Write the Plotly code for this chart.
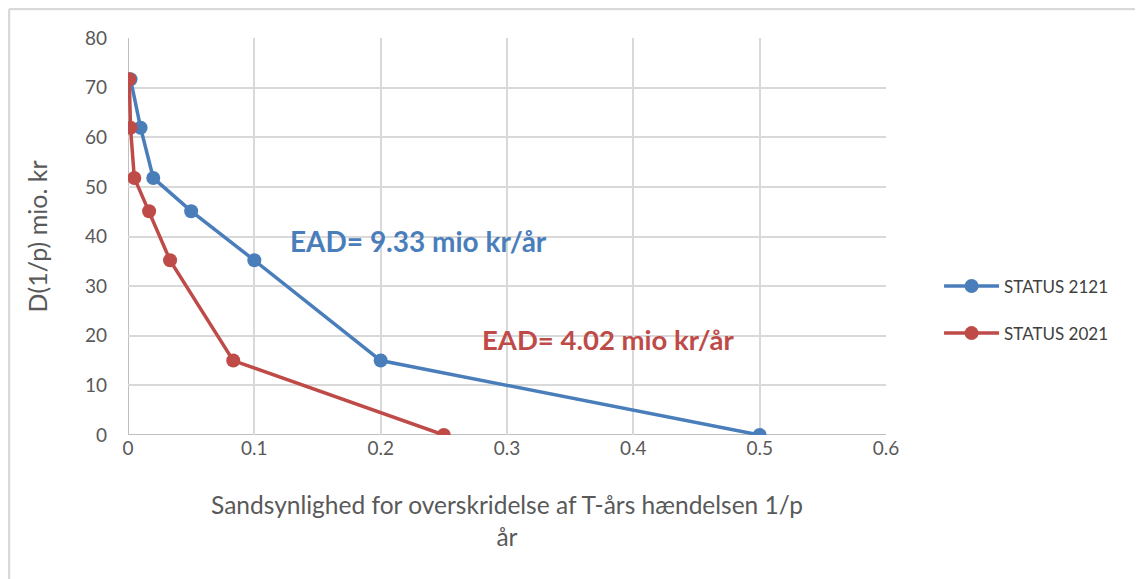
import plotly.graph_objects as go

# Data
p_2121 = [0.002, 0.01, 0.02, 0.05, 0.1, 0.2, 0.5]
d_2121 = [71.7, 61.9, 51.8, 45.1, 35.2, 15.0, 0.0]
p_2021 = [0.001, 0.002, 0.005, 0.0167, 0.0333, 0.0833, 0.25]
d_2021 = [71.7, 61.9, 51.8, 45.1, 35.2, 15.0, 0.0]
name_2121 = "STATUS 2121"
name_2021 = "STATUS 2021"
ead_2121 = "EAD= 9.33 mio kr/år"
ead_2021 = "EAD= 4.02 mio kr/år"
x_ticks = [0, 0.1, 0.2, 0.3, 0.4, 0.5, 0.6]
x_tick_text = ["0", "0.1", "0.2", "0.3", "0.4", "0.5", "0.6"]
y_ticks = [0, 10, 20, 30, 40, 50, 60, 70, 80]

BLUE = "#4A7EBB"
RED = "#BE4B48"
FONT = "Lato, 'Open Sans', sans-serif"

W, H = 1135, 571
ML, MT = 120, 30
PW, PH = 758, 397

fig = go.Figure()
fig.add_trace(go.Scatter(x=p_2121, y=d_2121, mode="lines+markers", name=name_2121,
                         line=dict(color=BLUE, width=3.5), marker=dict(color=BLUE, size=14),
                         legendgroup="a"))
fig.add_trace(go.Scatter(x=p_2021, y=d_2021, mode="lines+markers", name=name_2021,
                         line=dict(color=RED, width=3.5), marker=dict(color=RED, size=14),
                         legendgroup="b"))

fig.add_annotation(x=0.127, y=39.1, xanchor="left", yanchor="middle", showarrow=False,
                   text="<b>" + ead_2121 + "</b>", font=dict(color=BLUE, size=28, family=FONT))
fig.add_annotation(x=0.279, y=19.2, xanchor="left", yanchor="middle", showarrow=False,
                   text="<b>" + ead_2021 + "</b>", font=dict(color=RED, size=27.5, family=FONT))

# outer chart border (left and top)
bx = (1 - ML) / PW
by = 1 + (MT - 1) / PH
fig.add_shape(type="line", xref="paper", yref="paper", x0=bx, x1=bx, y0=-0.5, y1=by,
              line=dict(color="#D9D9D9", width=2.5))
fig.add_shape(type="line", xref="paper", yref="paper", x0=bx, x1=1.5, y0=by, y1=by,
              line=dict(color="#D9D9D9", width=2.5))

fig.update_layout(
    width=W, height=H,
    margin=dict(l=ML, r=W - ML - PW, t=MT, b=H - MT - PH),
    paper_bgcolor="white", plot_bgcolor="white",
    font=dict(family=FONT, color="#595959", size=19),
    legend=dict(x=1.07, y=0.315, xanchor="left", yanchor="middle", itemwidth=55,
                font=dict(size=17, color="#404040"), tracegroupgap=22,
                traceorder="grouped", bgcolor="rgba(0,0,0,0)"),
    xaxis=dict(range=[0, 0.6], tickvals=x_ticks, ticktext=x_tick_text,
               showgrid=True, gridcolor="#D9D9D9", gridwidth=2,
               zeroline=False, showline=False, ticks="", ticklen=0,
               title=dict(text="Sandsynlighed for overskridelse af T-års hændelsen 1/p<br>år",
                          font=dict(size=24.5, color="#595959"), standoff=38),
               tickfont=dict(size=19, color="#595959")),
    yaxis=dict(range=[0, 80], tickvals=y_ticks, showgrid=True, gridcolor="#D9D9D9", gridwidth=2,
               zeroline=False, showline=False, ticks="", ticklabelstandoff=20,
               title=dict(text="D(1/p) mio. kr", font=dict(size=25, color="#595959"), standoff=30),
               tickfont=dict(size=19, color="#595959")),
)
# axis lines at x=0 and y=0
fig.add_shape(type="line", xref="x", yref="y", x0=0, x1=0, y0=0, y1=80,
              line=dict(color="#BFBFBF", width=2), layer="below")
fig.add_shape(type="line", xref="x", yref="y", x0=0, x1=0.6, y0=0, y1=0,
              line=dict(color="#BFBFBF", width=2), layer="below")

fig.write_html("out.html")
